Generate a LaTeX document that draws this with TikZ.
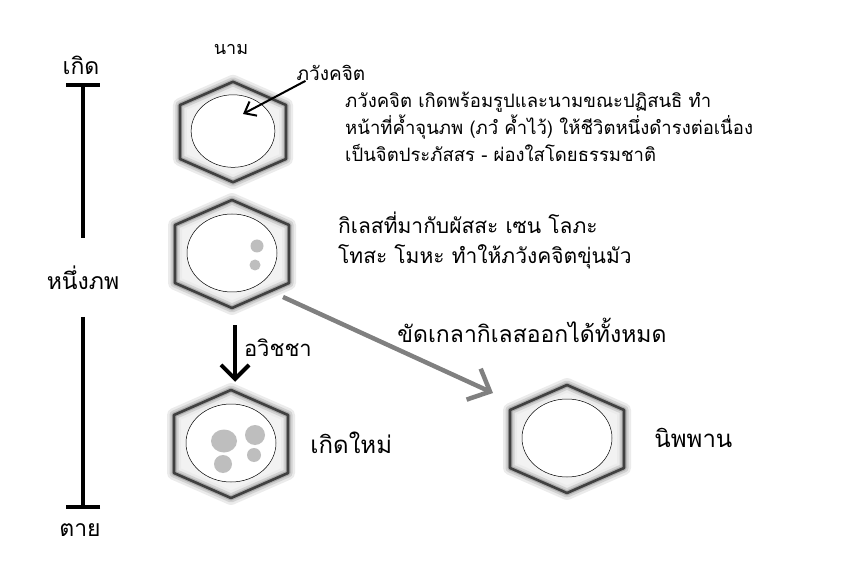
\documentclass[tikz,border=0pt]{standalone}
\usepackage{fontspec}
\newfontfamily\thai[Script=Thai]{Loma}
\usetikzlibrary{arrows.meta, positioning, shapes.geometric}
\definecolor{hexline}{RGB}{64,64,64}
\definecolor{spotgray}{RGB}{190,190,190}
\definecolor{barbgray}{RGB}{128,128,128}

\begin{document}
\begin{tikzpicture}[
    x=1pt, y=-1pt,        % pixel grid, y downwards
    font=\thai,
    soul/.style={ellipse, draw=black, line width=0.5pt, fill=white,
                 minimum width=90pt, minimum height=78pt, inner sep=0pt, transform shape},
    spot/.style={fill=spotgray},
    tag/.style={font=\thai\fontsize{23}{26}\selectfont, inner sep=1pt},
    note/.style={align=left, anchor=north west, inner sep=0pt},
    span/.style={line width=4pt},
    fall/.style={-{Straight Barb[length=14pt, width=28pt]}, line width=4pt},
    cleanse/.style={-{Straight Barb[length=18pt, width=34pt]}, line width=4.5pt, draw=barbgray},
    point/.style={-{Straight Barb[length=10pt, width=16pt]}, line width=2pt},
    hexcell/.pic={
        \fill[black!5] (0,-54) -- (57,-29) -- (57,29) -- (0,54) -- (-57,29) -- (-57,-29) -- cycle;
        \foreach \lw/\col in {14/black!8, 9/black!18, 5/black!32}
            \draw[line width=\lw pt, \col, line join=round]
                (0,-54) -- (57,-29) -- (57,29) -- (0,54) -- (-57,29) -- (-57,-29) -- cycle;
        \draw[line width=2.6pt, hexline, line join=round]
            (0,-54) -- (57,-29) -- (57,29) -- (0,54) -- (-57,29) -- (-57,-29) -- cycle;
        \node[soul] (-c) at (0,-1) {};
    }
]
\useasboundingbox (0,0) rectangle (844,588);

% life span on the left
\node[tag] (born) at (81,65) {เกิด};
\node[tag] (life) at (83,278) {หนึ่งภพ};
\node[tag] (death) at (80,530) {ตาย};
\draw[span, {Bar[width=34pt]}-] ([shift={(2,18)}]born.center) -- ([shift={(0,-40)}]life.center);
\draw[span, -{Bar[width=34pt]}] ([shift={(0,39)}]life.center) -- ([shift={(3,-21)}]death.center);

% the four minds
\pic[scale=0.93] (h1) at (233,132) {hexcell};
\pic (h2) at (232,254) {hexcell};
\pic (h3) at (231,444) {hexcell};
\pic (h4) at (567,439) {hexcell};

\fill[spot] ([shift={(25,-7)}]h2-c.center) circle (6.5);
\fill[spot] ([shift={(23,12)}]h2-c.center) circle (5.5);
\fill[spot] ([shift={(-7,-2)}]h3-c.center) ellipse (13 and 11.5);
\fill[spot] ([shift={(24,-8)}]h3-c.center) circle (10);
\fill[spot] ([shift={(-8,21)}]h3-c.center) circle (9);
\fill[spot] ([shift={(23,12)}]h3-c.center) circle (7);

% labels
\node[tag, font=\thai\fontsize{18}{20}\selectfont] (nama) at (231,49) {นาม};
\node[tag, font=\thai\fontsize{19}{21}\selectfont] (bhavlbl) at (331,73) {ภวังคจิต};
\coordinate (bhavpt) at (243,114);
\draw[point] ([shift={(10,-1)}]bhavlbl.south west) -- (bhavpt);

\node[note, font=\thai\fontsize{18.5}{27}\selectfont] (desc) at (345,92)
    {ภวังคจิต เกิดพร้อมรูปและนามขณะปฏิสนธิ ทำ\\
     หน้าที่ค้ำจุนภพ (ภวํ ค้ำไว้) ให้ชีวิตหนึ่งดำรงต่อเนื่อง\\
     เป็นจิตประภัสสร - ผ่องใสโดยธรรมชาติ};
\node[note, font=\thai\fontsize{21}{30}\selectfont] (kilesa) at (338,212)
    {กิเลสที่มากับผัสสะ เซน โลภะ\\
     โทสะ โมหะ ทำให้ภวังคจิตขุ่นมัว};

\draw[fall] ([shift={(3,33)}]h2-c.south) -- ([shift={(4,-22)}]h3-c.north)
    node[tag, font=\thai\fontsize{22}{24}\selectfont, pos=0.4, right, xshift=6pt] (avijja) {อวิชชา};
\draw[cleanse] ([shift={(51,44)}]h2-c.center) -- ([shift={(-74,-45)}]h4-c.center);
\node[tag] (polish) at (532,330) {ขัดเกลากิเลสออกได้ทั้งหมด};

\node[tag, font=\thai\fontsize{24}{26}\selectfont, right=33pt of h3-c] (reborn) {เกิดใหม่};
\node[tag, font=\thai\fontsize{24}{26}\selectfont, right=41pt of h4-c] (nibbana) {นิพพาน};

\end{tikzpicture}
\end{document}
